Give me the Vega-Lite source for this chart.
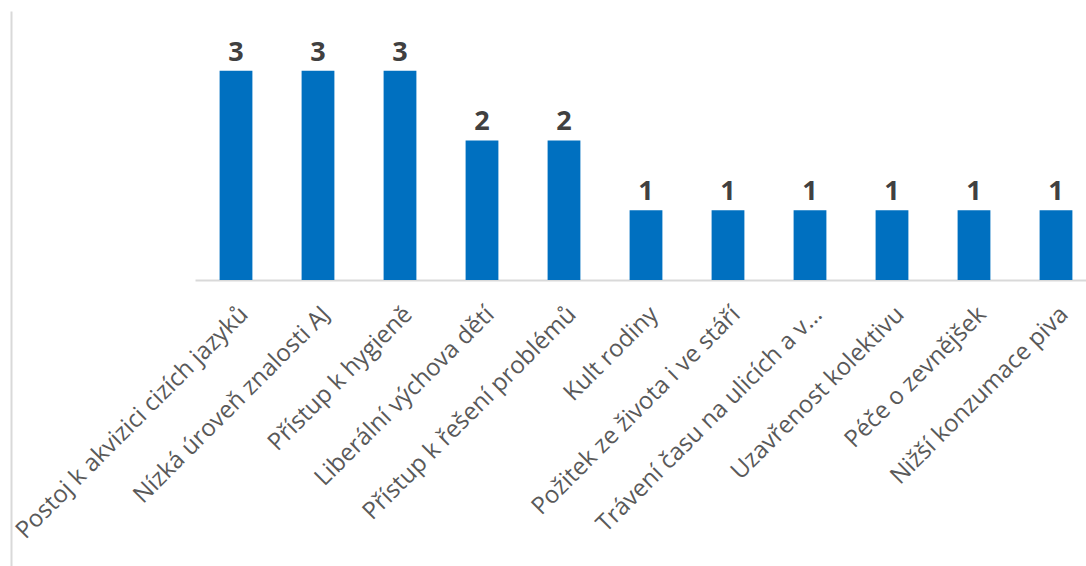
{
  "$schema": "https://vega.github.io/schema/vega-lite/v6.json",
  "autosize": {"type": "none"},
  "padding": {"left": 11, "top": 11, "right": 0, "bottom": 0},
  "width": 1075,
  "height": 555,
  "background": "white",
  "config": {"view": {"stroke": null}},
  "data": {
    "values": [
      {"kategorie": "Postoj k akvizici cizích jazyků", "pocet": 3},
      {"kategorie": "Nízká úroveň znalosti AJ", "pocet": 3},
      {"kategorie": "Přístup k hygieně", "pocet": 3},
      {"kategorie": "Liberální výchova dětí", "pocet": 2},
      {"kategorie": "Přístup k řešení problémů", "pocet": 2},
      {"kategorie": "Kult rodiny", "pocet": 1},
      {"kategorie": "Požitek ze života i ve stáří", "pocet": 1},
      {"kategorie": "Trávení času na ulicích a v…", "pocet": 1},
      {"kategorie": "Uzavřenost kolektivu", "pocet": 1},
      {"kategorie": "Péče o zevnějšek", "pocet": 1},
      {"kategorie": "Nižší konzumace piva", "pocet": 1}
    ]
  },
  "encoding": {
    "x": {
      "field": "kategorie",
      "type": "nominal",
      "sort": null,
      "scale": {"range": [184, 1086], "paddingInner": 0.6, "paddingOuter": 0.3},
      "axis": {
        "orient": "bottom",
        "offset": -286,
        "domain": true,
        "domainColor": "#d9d9d9",
        "domainWidth": 2,
        "ticks": false,
        "grid": false,
        "title": null,
        "labelAngle": -45,
        "labelFont": "Open Sans",
        "labelFontSize": 24,
        "labelColor": "#595959",
        "labelPadding": 22,
        "labelLimit": 0,
        "labelOverlap": false
      }
    },
    "y": {
      "field": "pocet",
      "type": "quantitative",
      "scale": {"domain": [-4.099, 3.856], "nice": false, "zero": false},
      "axis": {
        "orient": "left",
        "domain": true,
        "domainColor": "#d9d9d9",
        "domainWidth": 2,
        "labels": false,
        "ticks": false,
        "grid": false,
        "title": null
      }
    }
  },
  "layer": [
    {
      "mark": {"type": "bar", "color": "#0070C0"}
    },
    {
      "mark": {"type": "text", "font": "Open Sans", "fontWeight": "bold", "fontSize": 27, "color": "#404040", "baseline": "alphabetic", "dy": -10},
      "encoding": {
        "text": {"field": "pocet", "type": "quantitative"}
      }
    },
    {
      "data": {"values": [{}]},
      "mark": {"type": "rule", "color": "#d9d9d9", "strokeWidth": 2},
      "encoding": {
        "x": null,
        "y": {"datum": 3.856, "type": "quantitative"}
      }
    }
  ]
}
